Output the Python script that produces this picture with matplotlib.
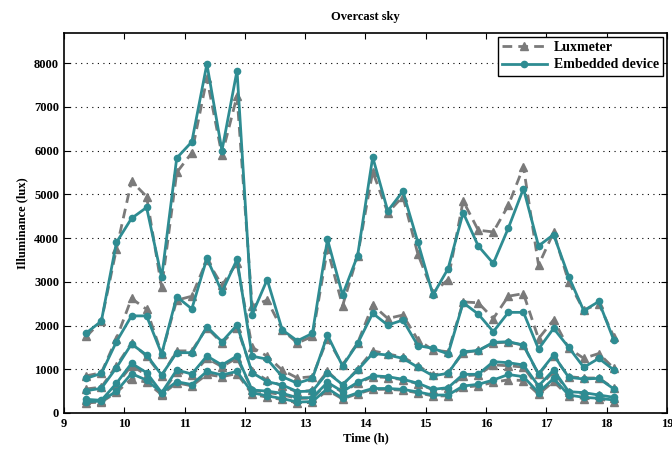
"""Overcast sky: luxmeter vs embedded device illuminance"""
import matplotlib
matplotlib.use("Agg")
import matplotlib.pyplot as plt
import numpy as np

plt.rcParams['font.family'] = ['Liberation Serif', 'DejaVu Serif']
plt.rcParams['font.weight'] = 'bold'

# sample times (h), every 15 min
t0 = 9.37
step = 0.25
n_samples = 36

# five sensor positions, luxmeter and embedded device readings (lux)
lux_1 = [1750, 2100, 3750, 5300, 4950, 2870, 5500, 5950, 7650, 5900, 7250, 2450,
         2580, 1900, 1600, 1750, 3750, 2450, 3600, 5520, 4580, 4950, 3630, 2750,
         3050, 4850, 4180, 4140, 4750, 5630, 3380, 4130, 3000, 2350, 2500, 1740]
dev_1 = [1830, 2100, 3900, 4450, 4700, 3100, 5830, 6200, 7980, 6000, 7830, 2250,
         3050, 1900, 1650, 1820, 3970, 2700, 3600, 5850, 4620, 5070, 3900, 2700,
         3300, 4580, 3820, 3420, 4230, 5130, 3820, 4080, 3120, 2340, 2550, 1660]

lux_2 = [850, 920, 1700, 2620, 2370, 1350, 2580, 2670, 3500, 2920, 3435, 1500,
         1300, 980, 800, 830, 1700, 1100, 1600, 2470, 2160, 2240, 1670, 1440,
         1400, 2540, 2520, 2160, 2670, 2730, 1700, 2130, 1480, 1250, 1360, 1020]
dev_2 = [792, 905, 1630, 2220, 2220, 1350, 2660, 2380, 3535, 2770, 3510, 1300,
         1230, 830, 680, 790, 1780, 1075, 1590, 2280, 2010, 2125, 1540, 1478,
         1349, 2522, 2263, 1859, 2301, 2301, 1463, 1935, 1501, 1044, 1249, 983]

lux_3 = [550, 590, 1080, 1600, 1300, 850, 1420, 1420, 1950, 1600, 1950, 960,
         750, 620, 480, 520, 950, 640, 1000, 1420, 1350, 1280, 1080, 870,
         920, 1380, 1430, 1600, 1620, 1550, 880, 1300, 830, 800, 800, 560]
dev_3 = [510, 564, 1036, 1577, 1326, 869, 1379, 1379, 1973, 1630, 2011, 922,
         716, 640, 490, 500, 920, 650, 980, 1360, 1325, 1250, 1045, 850,
         907, 1402, 1425, 1615, 1630, 1554, 891, 1326, 815, 777, 792, 549]

lux_4 = [290, 280, 650, 1080, 870, 440, 940, 860, 1250, 1060, 1260, 520,
         470, 420, 330, 340, 690, 470, 680, 830, 810, 760, 670, 530,
         560, 850, 870, 1100, 1080, 1050, 580, 950, 470, 450, 400, 340]
dev_4 = [312, 289, 678, 1135, 922, 465, 983, 891, 1303, 1097, 1303, 526,
         500, 450, 350, 350, 700, 490, 700, 850, 830, 770, 680, 541,
         579, 884, 884, 1173, 1150, 1097, 617, 983, 488, 465, 411, 358]

lux_5 = [230, 250, 470, 780, 700, 420, 690, 620, 880, 830, 900, 430,
         360, 310, 230, 240, 520, 320, 440, 540, 540, 520, 460, 390,
         390, 590, 620, 700, 760, 740, 430, 720, 380, 330, 320, 260]
dev_5 = [259, 270, 500, 900, 750, 465, 715, 650, 950, 870, 950, 465,
         390, 330, 250, 260, 560, 340, 460, 560, 560, 540, 480, 411,
         411, 617, 655, 754, 880, 830, 465, 790, 411, 358, 335, 297]

luxmeter = [lux_1, lux_2, lux_3, lux_4, lux_5]
device = [dev_1, dev_2, dev_3, dev_4, dev_5]

time = t0 + step * np.arange(n_samples)

gray = '#7a7a7a'
teal = '#2e8c92'

fig = plt.figure(figsize=(6.72, 4.51), dpi=100)
ax = fig.add_axes([0.0952, 0.0843, 0.8973, 0.8426])

for i in range(len(device)):
    ax.plot(time, luxmeter[i], color=gray, linestyle=(0, (3.5, 2.2)), linewidth=2,
            marker='^', markersize=5.5, label='Luxmeter' if i == 0 else None)
for i in range(len(device)):
    ax.plot(time, device[i], color=teal, linestyle='-', linewidth=2,
            marker='o', markersize=4.5, label='Embedded device' if i == 0 else None)

ax.set_xlim(9, 19)
ax.set_ylim(0, 8690)
ax.set_xticks(np.arange(9, 20, 1))
ax.set_yticks(np.arange(0, 8001, 1000))
ax.yaxis.grid(True, linestyle=(0, (1, 4)), color='black', linewidth=0.8)
ax.tick_params(direction='in', top=True, right=True, labelsize=9, length=4)
for lab in ax.get_xticklabels() + ax.get_yticklabels():
    lab.set_fontweight('bold')
for sp in ax.spines.values():
    sp.set_linewidth(1.2)

ax.set_xlabel('Time (h)', fontsize=9, fontweight='bold', labelpad=2)
ax.set_ylabel('Illuminance (lux)', fontsize=9, fontweight='bold', labelpad=4)
ax.set_title('Overcast sky', fontsize=9, fontweight='bold', pad=9)

leg = ax.legend(loc='upper right', fontsize=10, fancybox=False, framealpha=1,
                edgecolor='black', handlelength=3.2, borderaxespad=0.3,
                borderpad=0.3, labelspacing=0.3, handletextpad=0.5)
leg.get_frame().set_linewidth(1.0)
for txt in leg.get_texts():
    txt.set_fontweight('bold')

fig.savefig('out.png', dpi=100)
